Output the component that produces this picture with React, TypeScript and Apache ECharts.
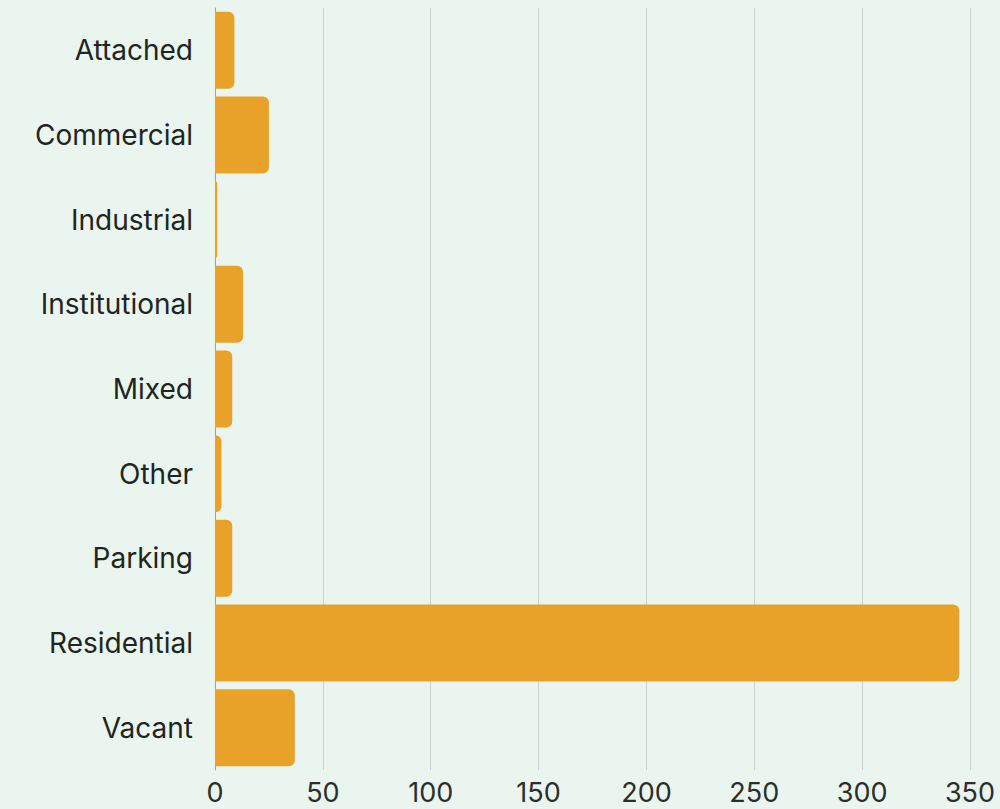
import React, { useEffect, useRef } from "react";
import * as echarts from "echarts";

const categories = ["Attached", "Commercial", "Industrial", "Institutional", "Mixed", "Other", "Parking", "Residential", "Vacant"];
const values = [9, 25, 1, 13, 8, 3, 8, 345, 37];
const xTicks = [0, 50, 100, 150, 200, 250, 300, 350];

export default function App() {
  const ref = useRef<HTMLDivElement>(null);
  useEffect(() => {
    if (!ref.current) return;
    const chart = echarts.init(ref.current, null, { renderer: "svg" });
    chart.setOption({
      animation: false,
      backgroundColor: "#e9f5ee",
      grid: { left: 215, right: 30, top: 8, bottom: 39 },
      xAxis: {
        type: "value",
        min: xTicks[0],
        max: xTicks[xTicks.length - 1],
        interval: 50,
        axisLine: { show: false },
        axisTick: { show: false },
        splitLine: { show: true, lineStyle: { color: "#c9d3ce", width: 1 } },
        axisLabel: { color: "#2a2f2d", fontSize: 27, fontFamily: "Inter", margin: 9 },
      },
      yAxis: {
        type: "category",
        data: categories,
        inverse: true,
        axisLine: { show: true, lineStyle: { color: "#9aa39f", width: 1 } },
        axisTick: { show: false },
        axisLabel: { color: "#1e2522", fontSize: 28, fontFamily: "Inter", margin: 22 },
      },
      series: [
        {
          type: "bar",
          data: values,
          barCategoryGap: "9%",
          itemStyle: { color: "#e9a229", borderRadius: [0, 6, 6, 0] },
        },
      ],
    });
    return () => chart.dispose();
  }, []);
  return <div ref={ref} style={{ position: "fixed", left: 0, top: 0, width: 1000, height: 809 }} />;
}
